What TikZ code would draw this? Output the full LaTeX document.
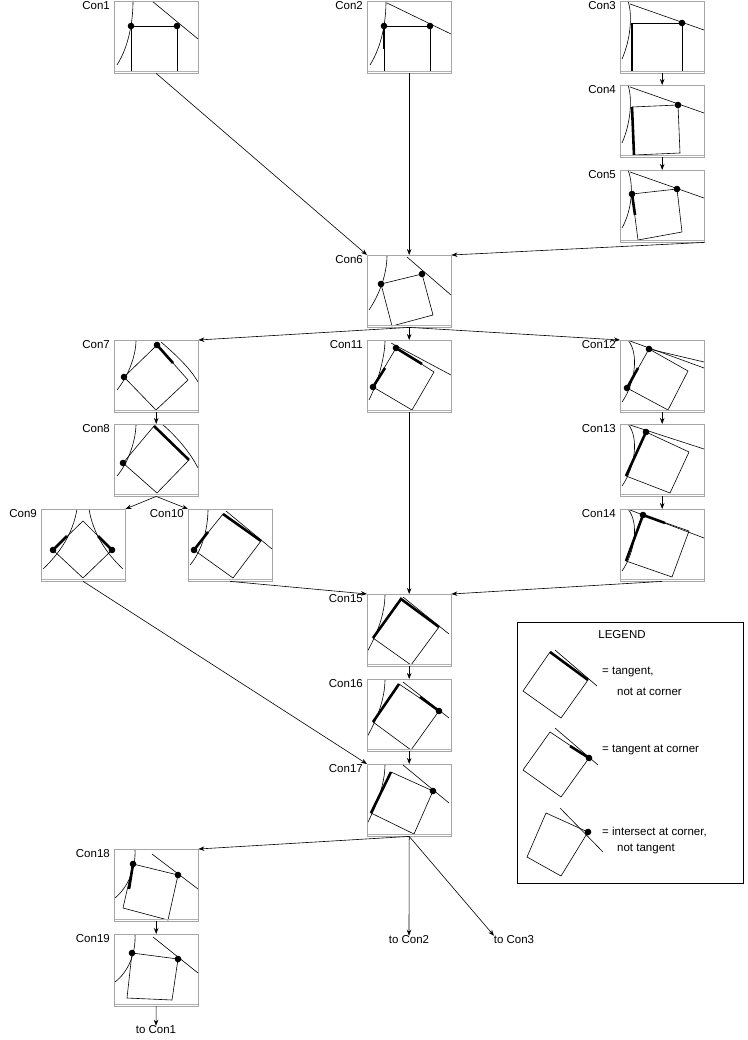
\documentclass[tikz,border=0pt]{standalone}
\usepackage{fontspec}
\setmainfont{Liberation Sans}
\usetikzlibrary{arrows.meta}
\tikzset{
 frame/.style={draw=gray!70,line width=0.9pt},
 gnd/.style={draw=gray!60,line width=1.6pt},
 ln/.style={line width=0.6pt},
 thk/.style={line width=2.6pt},
 lbl/.style={font=\fontsize{11.5}{13}\selectfont,inner sep=0pt},
 arr/.style={line width=0.6pt,-{Stealth[length=6pt,width=4.5pt]}},
 pbox/.style={inner sep=0pt,minimum width=84pt,minimum height=72pt,anchor=north west}
}
\newcommand\pnl[4]{%
 \begin{scope}[shift={(#1,#2)}]
 \node[pbox] (#3) at (0,0) {};
 \begin{scope}\clip (0,0) rectangle (84,72);
 \begin{scope}[ln] #4 \end{scope}
 \end{scope}
 \draw[frame] (0,0) rectangle (84,72);
 \draw[gnd] (0.5,70.5)--(83.5,70.5);
 \node[lbl,anchor=north east] (#3lab) at (-4,0) {#3};
 \end{scope}}
\newcommand\sqr[4]{\draw #1--#2--#3--#4--cycle;}
\newcommand\dt[1]{\fill #1 circle (3.3);}
\begin{document}
\begin{tikzpicture}[x=1pt,y=-1pt]
\useasboundingbox (0,0) rectangle (747,1040);
% row 1
\pnl{114}{1}{Con1}{
 \draw (3,64) .. controls (15,45) and (19,20) .. (19,0);
 \draw (38,0)--(84,38);
 \draw (17,71)--(17,25)--(63,25)--(63,71);
 \dt{(17,25)}\dt{(63,25)}}
\pnl{367}{1}{Con2}{
 \draw (3,64) .. controls (15,45) and (19,20) .. (19,0);
 \draw (20,2)--(84,33);
 \draw (17,71)--(17,25)--(63,25)--(63,71);
 \draw[thk] (17,25)--(17,48);
 \dt{(17,25)}\dt{(63,25)}}
\pnl{620}{1}{Con3}{
 \draw (2,58) .. controls (10,40) and (13,15) .. (8,0);
 \draw (10,3)--(84,29);
 \draw (12,71)--(12,22)--(62,22)--(62,71);
 \draw[thk] (12,22)--(12,71);
 \dt{(62,22)}}
\pnl{620}{85}{Con4}{
 \draw (2,58) .. controls (10,40) and (13,15) .. (8,0);
 \draw (10,2)--(84,28);
 \sqr{(12,22)}{(58,20)}{(60,68)}{(14,70)}
 \draw[thk] (12,22)--(14,70);
 \dt{(58,20)}}
\pnl{620}{170}{Con5}{
 \draw (2,58) .. controls (12,40) and (14,15) .. (8,0);
 \draw (10,2)--(84,28);
 \sqr{(12,24)}{(57,19)}{(62,62)}{(18,70)}
 \draw[thk] (12,24)--(15,45);
 \dt{(12,24)}\dt{(57,19)}}
% Con6
\pnl{367}{255}{Con6}{
 \draw (2,55) .. controls (12,40) and (20,20) .. (20,0);
 \draw (40,2)--(84,40);
 \sqr{(14,29)}{(55,19)}{(66,60)}{(25,71)}
 \dt{(14,29)}\dt{(55,19)}}
% row 3
\pnl{114}{340}{Con7}{
 \draw (3,50) .. controls (15,35) and (22,15) .. (22,0);
 \draw (47,2) .. controls (62,15) and (76,28) .. (84,42);
 \sqr{(43,5)}{(74,40)}{(42,70)}{(10,37)}
 \draw[thk] (43,5)--(59,23);
 \dt{(43,5)}\dt{(10,37)}}
\pnl{367}{340}{Con11}{
 \draw (2,60) .. controls (12,40) and (18,15) .. (18,0);
 \draw (24,3)--(84,35);
 \sqr{(29,8)}{(67,32)}{(45,70)}{(6,47)}
 \draw[thk] (29,8)--(55,24);
 \draw[thk] (6,47)--(18,28);
 \dt{(29,8)}\dt{(6,47)}}
\pnl{620}{340}{Con12}{
 \draw (2,62) .. controls (14,45) and (20,15) .. (8,0);
 \draw (10,1)--(84,28);
 \draw (29,9)--(84,22);
 \sqr{(29,9)}{(68,31)}{(48,70)}{(7,48)}
 \draw[thk] (7,48)--(18,28);
 \dt{(29,9)}\dt{(7,48)}}
\pnl{114}{424}{Con8}{
 \draw (3,52) .. controls (15,38) and (22,15) .. (22,0);
 \draw (48,0) .. controls (62,12) and (76,28) .. (84,44);
 \sqr{(40,2)}{(75,36)}{(43,69)}{(9,39)}
 \draw[thk] (40,2)--(75,36);
 \dt{(9,39)}}
\pnl{620}{424}{Con13}{
 \draw (2,62) .. controls (14,45) and (20,15) .. (8,0);
 \draw (10,1)--(84,25);
 \sqr{(26,8)}{(69,28)}{(50,69)}{(6,52)}
 \draw[thk] (26,8)--(6,52);
 \dt{(26,8)}}
\pnl{41}{509}{Con9}{
 \draw (2,60) .. controls (18,45) and (32,25) .. (36,0);
 \draw (82,60) .. controls (66,45) and (52,25) .. (48,0);
 \sqr{(12,41)}{(42,12)}{(71,41)}{(42,69)}
 \draw[thk] (12,41)--(26,27);
 \draw[thk] (57,27)--(71,41);
 \dt{(12,41)}\dt{(71,41)}}
\pnl{188}{509}{Con10}{
 \draw (2,56) .. controls (14,42) and (20,20) .. (20,0);
 \draw (38,2)--(84,40);
 \sqr{(35,5)}{(73,32)}{(45,69)}{(6,41)}
 \draw[thk] (35,5)--(73,32);
 \draw[thk] (6,41)--(20,23);
 \dt{(6,41)}}
\pnl{620}{509}{Con14}{
 \draw (2,62) .. controls (14,45) and (20,15) .. (8,0);
 \draw (10,1)--(84,29);
 \sqr{(23,6)}{(69,22)}{(52,68)}{(6,52)}
 \draw[thk] (23,6)--(6,52);
 \draw[thk] (23,6)--(45,14);
 \dt{(23,6)}}
% central column
\pnl{367}{594}{Con15}{
 \draw (0,58) .. controls (10,40) and (18,20) .. (18,0);
 \draw (36,3)--(82,40);
 \sqr{(34,5)}{(72,33)}{(44,71)}{(6,44)}
 \draw[thk] (6,44)--(34,5)--(72,33);}
\pnl{367}{679}{Con16}{
 \draw (0,58) .. controls (10,40) and (18,20) .. (18,0);
 \draw (36,3)--(82,39);
 \sqr{(32,5)}{(72,32)}{(44,71)}{(6,43)}
 \draw[thk] (6,43)--(32,5);
 \draw[thk] (53,18)--(72,32);
 \dt{(72,32)}}
\pnl{367}{764}{Con17}{
 \draw (0,60) .. controls (10,40) and (18,20) .. (18,0);
 \draw (36,1)--(82,39);
 \sqr{(24,8)}{(66,27)}{(47,70)}{(4,49)}
 \draw[thk] (24,8)--(4,49);
 \dt{(66,27)}}
\pnl{114}{849}{Con18}{
 \draw (1,49) .. controls (14,38) and (22,20) .. (21,0);
 \draw (38,5)--(84,40);
 \sqr{(19,15)}{(64,26)}{(54,71)}{(9,59)}
 \draw[thk] (19,15)--(15,40);
 \dt{(19,15)}\dt{(64,26)}}
\pnl{114}{934}{Con19}{
 \draw (1,48) .. controls (14,38) and (22,20) .. (21,0);
 \draw (39,3)--(84,39);
 \sqr{(18,19)}{(64,25)}{(58,66)}{(13,64)}
 \dt{(18,19)}\dt{(64,25)}}
% end nodes
\node[lbl] (t2) at (409,940) {to Con2};
\node[lbl] (t3) at (514,940) {to Con3};
\node[lbl] (t1) at (156,1030) {to Con1};
% arrows
\draw[arr] (Con1.south) -- (Con6.north west);
\draw[arr] (Con2.south) -- (Con6.north);
\draw[arr] (Con5.south east) -- (Con6.north east);
\draw[arr] (Con3.south) -- (Con4.north);
\draw[arr] (Con4.south) -- (Con5.north);
\draw[arr] (Con6.south) -- (Con7.north east);
\draw[arr] (Con6.south) -- (Con11.north);
\draw[arr] (Con6.south) -- (Con12.north west);
\draw[arr] (Con7.south) -- (Con8.north);
\draw[arr] (Con8.south) -- (Con9.north east);
\draw[arr] (Con8.south) -- (Con10.north west);
\draw[arr] (Con12.south) -- (Con13.north);
\draw[arr] (Con13.south) -- (Con14.north);
\draw[arr] (Con9.south) -- (Con17.north west);
\draw[arr] (Con10.south) -- (Con15.north west);
\draw[arr] (Con11.south) -- (Con15.north);
\draw[arr] (Con14.south) -- (Con15.north east);
\draw[arr] (Con15.south) -- (Con16.north);
\draw[arr] (Con16.south) -- (Con17.north);
\draw[arr] (Con17.south) -- (Con18.north east);
\draw[arr] (Con17.south) -- (t2.north);
\draw[arr] (Con17.south) -- ([xshift=-20pt]t3.north);
\draw[arr] (Con18.south) -- (Con19.north);
\draw[arr] (Con19.south) -- (t1.north);
% legend
\node[draw,line width=1.2pt,minimum width=226pt,minimum height=261pt,anchor=north west,inner sep=0] (leg) at (517,622) {};
\node[lbl] (legt) at (622,635) {LEGEND};
\begin{scope}[ln]
\sqr{(550,652)}{(588,680)}{(561,718)}{(523,691)}
\draw (555,650)--(597,686);
\draw[thk] (550,652)--(588,680);
\sqr{(550,732)}{(589,758)}{(561,797)}{(523,770)}
\draw (555,728)--(598,765);
\draw[thk] (570,746)--(589,758);
\dt{(589,758)}
\sqr{(546,813)}{(588,832)}{(561,876)}{(527,857)}
\draw (560,808)--(603,852);
\dt{(588,832)}
\end{scope}
\node[lbl,anchor=west] (l1a) at (602,672) {= tangent,};
\node[lbl,anchor=west] (l1b) at (617,692) {not at corner};
\node[lbl,anchor=west] (l2) at (602,750) {= tangent at corner};
\node[lbl,anchor=west] (l3a) at (602,832) {= intersect at corner,};
\node[lbl,anchor=west] (l3b) at (617,849) {not tangent};
\end{tikzpicture}
\end{document}
